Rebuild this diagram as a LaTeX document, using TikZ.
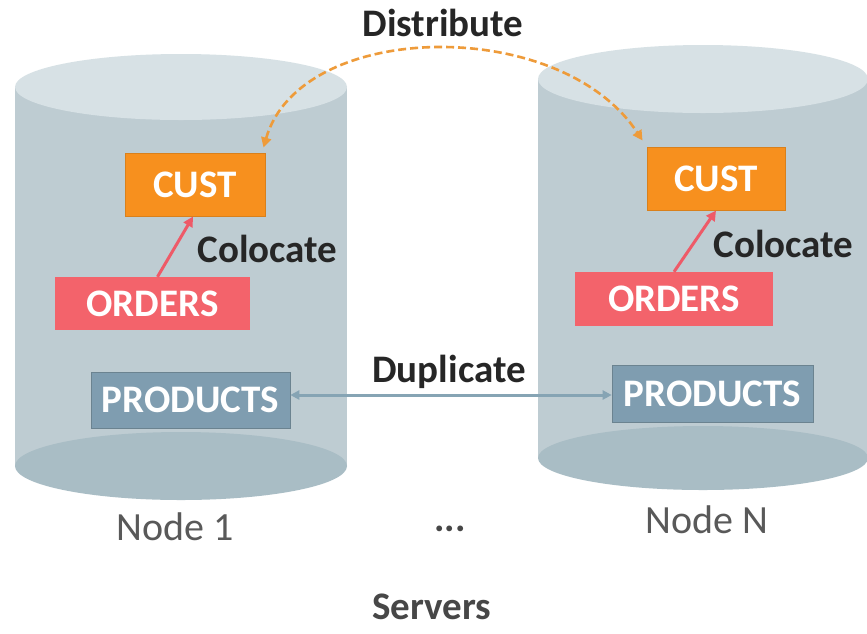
\documentclass[tikz,border=0pt]{standalone}
\usepackage{fontspec}
\setmainfont{Carlito}
\usetikzlibrary{arrows.meta}
\definecolor{cylbody}{HTML}{BECCD2}
\definecolor{cyltop}{HTML}{D7E1E5}
\definecolor{cylbot}{HTML}{A9BDC5}
\definecolor{custfill}{HTML}{F7901E}
\definecolor{custedge}{HTML}{D9801C}
\definecolor{ordfill}{HTML}{F3636B}
\definecolor{prodfill}{HTML}{7F9DB0}
\definecolor{dupline}{HTML}{86A4B4}
\definecolor{distline}{HTML}{EE9B3A}
\definecolor{cololine}{HTML}{EE5A68}
\definecolor{darktext}{HTML}{262626}
\definecolor{greytext}{HTML}{595959}
\tikzset{
  table/.style={inner sep=0pt, text=white, font=\fontsize{39}{41}\selectfont\bfseries},
  custbox/.style={table, fill=custfill, draw=custedge, line width=1pt},
  ordbox/.style={table, fill=ordfill},
  prodbox/.style={table, fill=prodfill, draw=dupline!80!black, line width=0.6pt},
  tag/.style={anchor=base, inner sep=1pt, text=darktext, font=\fontsize{39}{41}\selectfont\bfseries},
  server/.style={anchor=base, inner sep=1pt, text=greytext, font=\fontsize{40}{42}\selectfont},
}
\begin{document}
\begin{tikzpicture}[x=1pt,y=-1pt]
\useasboundingbox (0,0) rectangle (867,633);
\fill[white] (0,0) rectangle (867,633);

% left cylinder (Node 1)
\fill[cylbody] (15,87) rectangle (347,466);
\fill[cylbot] (181,466) ellipse [x radius=166, y radius=34];
\fill[cyltop] (181,87) ellipse [x radius=166, y radius=33];

% right cylinder (Node N)
\fill[cylbody] (538,79) rectangle (868,458);
\fill[cylbot] (703,458) ellipse [x radius=165, y radius=32];
\fill[cyltop] (703,79) ellipse [x radius=165, y radius=34];

% tables on Node 1
\node[custbox, minimum width=140pt, minimum height=63pt] (c1) at (195,184.5) {CUST};
\node[ordbox, minimum width=195pt, minimum height=53pt] (o1) at (152.5,303.5) {ORDERS};
\node[prodbox, minimum width=199pt, minimum height=56pt] (p1) at (190.5,400) {PRODUCTS};

% tables on Node N
\node[custbox, minimum width=138pt, minimum height=63pt] (c2) at (716,178.5) {CUST};
\node[ordbox, minimum width=198pt, minimum height=54pt] (o2) at (674,299) {ORDERS};
\node[prodbox, minimum width=201pt, minimum height=57pt] (p2) at (712.5,393.5) {PRODUCTS};

% labels
\node[tag] (dist) at (443,36) {Distribute};
\node[tag] (colo1) at (267.5,262) {Colocate};
\node[tag] (colo2) at (783.5,257) {Colocate};
\node[tag] (dup) at (449,382) {Duplicate};
\node[server] (n1) at (175,540) {Node 1};
\node[server] (nn) at (707,533) {Node N};
\node[tag, text=greytext!80!black] (dots) at (450,531) {...};
\node[tag, text=greytext!80!black] (srv) at (432,619) {Servers};

% connectors
\draw[cololine, line width=3pt, -{Triangle[length=10pt,width=10pt]}]
  ([xshift=5pt]o1.north) -- ([xshift=-2pt]c1.south);
\draw[cololine, line width=3pt, -{Triangle[length=10pt,width=10pt]}]
  (o2.north) -- (c2.south);
\draw[dupline, line width=3pt, {Triangle[length=9pt,width=9pt]}-{Triangle[length=9pt,width=9pt]}]
  ([yshift=5pt]p1.east) -- ([yshift=5pt]p1.east -| p2.west);
\draw[distline, line width=2.6pt, dash pattern=on 8pt off 4pt,
      {Triangle[length=10pt,width=10pt]}-{Triangle[length=10pt,width=10pt]}]
  ([xshift=-2pt,yshift=5pt]c1.north east) .. controls (300,20) and (560,15) .. ([xshift=-4pt,yshift=6pt]c2.north west);
\end{tikzpicture}
\end{document}
